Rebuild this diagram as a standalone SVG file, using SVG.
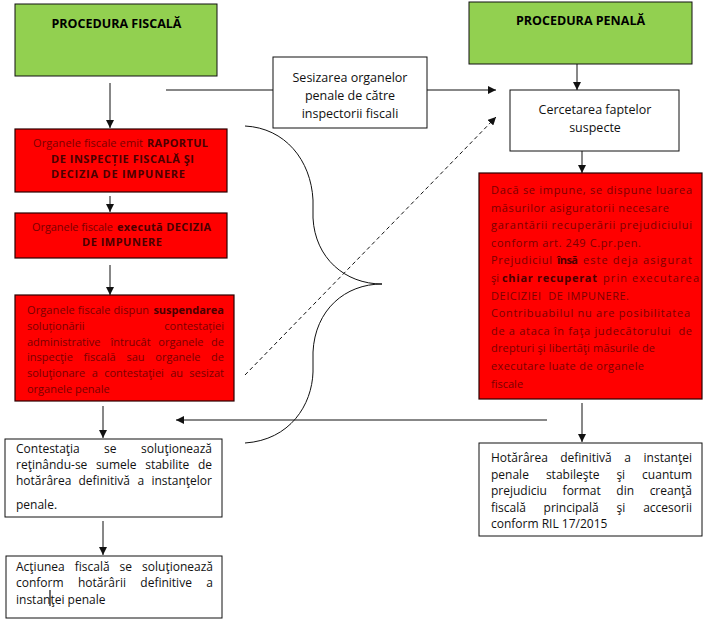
<svg xmlns="http://www.w3.org/2000/svg" width="716" height="620" viewBox="0 0 716 620">
<style>
.t{font-family:"Open Sans","Noto Sans","DejaVu Sans",sans-serif;font-size:12px;fill:#111}
.m{font-family:"Open Sans","Noto Sans","DejaVu Sans",sans-serif;font-size:12.5px;fill:#111}
.r{font-family:"Open Sans","Noto Sans","DejaVu Sans",sans-serif;font-size:11px;fill:#7a0000}
.b{font-weight:bold;fill:#4a0000}
.h{font-family:"Open Sans","Noto Sans","DejaVu Sans",sans-serif;font-size:12.5px;font-weight:bold;fill:#000}
.c{text-anchor:middle}
.e{text-anchor:end}
.green{fill:#92d050;stroke:#111;stroke-width:1}
.red{fill:#ff0000;stroke:#2a0000;stroke-width:1.2}
.white{fill:#fff;stroke:#111;stroke-width:1}
.ln{stroke:#111;stroke-width:1;fill:none}
</style>
<defs>
<marker id="ah" viewBox="0 0 10 10" refX="10" refY="5" markerWidth="8" markerHeight="8" markerUnits="userSpaceOnUse" orient="auto">
<path d="M0,0 L10,5 L0,10 z" fill="#111"/>
</marker>
</defs>
<rect width="716" height="620" fill="#fff"/>

<g id="connectors">
<line class="ln" x1="110" y1="83" x2="110" y2="128" marker-end="url(#ah)"/>
<line class="ln" x1="110" y1="196" x2="110" y2="212" marker-end="url(#ah)"/>
<line class="ln" x1="110" y1="265" x2="110" y2="295" marker-end="url(#ah)"/>
<line class="ln" x1="103" y1="406" x2="103" y2="438" marker-end="url(#ah)"/>
<line class="ln" x1="103" y1="521" x2="103" y2="555" marker-end="url(#ah)"/>
<line class="ln" x1="166" y1="90" x2="496" y2="90" marker-end="url(#ah)"/>
<line class="ln" x1="245" y1="375" x2="496" y2="117" stroke-dasharray="4,3" marker-end="url(#ah)"/>
<line class="ln" x1="577" y1="64" x2="577" y2="90" marker-end="url(#ah)"/>
<line class="ln" x1="582" y1="151" x2="582" y2="173" marker-end="url(#ah)"/>
<line class="ln" x1="582" y1="403" x2="582" y2="442" marker-end="url(#ah)"/>
<line class="ln" x1="547" y1="420" x2="176" y2="420" marker-end="url(#ah)"/>
<path id="brace" class="ln" d="M245,126 C285,128 311,160 313,200 L313,218 C315,258 345,284 382,284 C345,284 315,310 313,352 L313,372 C312,405 290,440 245,443"/>
</g>

<g id="procedura-fiscala">
<rect class="green" x="15" y="4" width="202" height="72"/>
<text class="h c" x="116.5" y="28">PROCEDURA FISCALĂ</text>
</g>

<g id="procedura-penala">
<rect class="green" x="469" y="2" width="223" height="62"/>
<text class="h c" x="580.5" y="25">PROCEDURA PENALĂ</text>
</g>

<g id="sesizarea">
<rect class="white" x="273" y="57" width="154" height="71"/>
<text class="m c" x="350" y="82">Sesizarea organelor</text>
<text class="m c" x="350" y="100">penale de către</text>
<text class="m c" x="350" y="118">inspectorii fiscali</text>
</g>

<g id="cercetarea">
<rect class="white" x="510" y="90" width="169" height="61"/>
<text class="m c" x="595" y="114">Cercetarea faptelor</text>
<text class="m c" x="595" y="132">suspecte</text>
</g>

<g id="raportul">
<rect class="red" x="15" y="129" width="212" height="63"/>
<text class="r" x="33" y="147" textLength="110">Organele fiscale emit</text>
<text class="r b" x="147" y="147" textLength="61">RAPORTUL</text>
<text class="r b" x="51" y="163" textLength="143">DE INSPECȚIE FISCALĂ ŞI</text>
<text class="r b" x="51" y="178" textLength="134">DECIZIA DE IMPUNERE</text>
</g>

<g id="executa">
<rect class="red" x="15" y="213" width="212" height="45"/>
<text class="r" x="32" y="231" textLength="81">Organele fiscale</text>
<text class="r b" x="117" y="231" textLength="94">execută DECIZIA</text>
<text class="r b" x="82" y="246" textLength="80">DE IMPUNERE</text>
</g>

<g id="suspendarea">
<rect class="red" x="15" y="295" width="219" height="106"/>
<text class="r" x="27" y="314" textLength="122">Organele fiscale dispun</text>
<text class="r b e" x="224" y="314">suspendarea</text>
<text class="r" x="27" y="330">soluționării</text>
<text class="r e" x="224" y="330">contestației</text>
<text class="r" x="27" y="346">administrative</text>
<text class="r" x="110.6" y="346">întrucât</text>
<text class="r" x="158.3" y="346">organele</text>
<text class="r e" x="224" y="346">de</text>
<text class="r" x="27" y="361">inspecţie</text>
<text class="r" x="83.6" y="361">fiscală</text>
<text class="r" x="126.4" y="361">sau</text>
<text class="r" x="155.3" y="361">organele</text>
<text class="r e" x="224" y="361">de</text>
<text class="r" x="27" y="377">soluţionare</text>
<text class="r" x="91.7" y="377">a</text>
<text class="r" x="104.2" y="377">contestaţiei</text>
<text class="r" x="170.2" y="377">au</text>
<text class="r e" x="224" y="377">sesizat</text>
<text class="r" x="27" y="393">organele penale</text>
</g>

<g id="contestatia">
<rect class="white" x="5" y="439" width="217" height="78"/>
<text class="t" x="16" y="453">Contestaţia</text>
<text class="t" x="104" y="453">se</text>
<text class="t e" x="212" y="453">soluţionează</text>
<text class="t" x="16" y="469">reţinându-se</text>
<text class="t" x="95.9" y="469">sumele</text>
<text class="t" x="145.2" y="469">stabilite</text>
<text class="t e" x="212" y="469">de</text>
<text class="t" x="16" y="485">hotărârea</text>
<text class="t" x="78.5" y="485">definitivă</text>
<text class="t" x="137.4" y="485">a</text>
<text class="t e" x="212" y="485">instanţelor</text>
<text class="t" x="16" y="509">penale.</text>
</g>

<g id="actiunea">
<rect class="white" x="6" y="556" width="216" height="62"/>
<text class="t" x="16" y="571">Acţiunea</text>
<text class="t" x="74.7" y="571">fiscală</text>
<text class="t" x="119.6" y="571">se</text>
<text class="t e" x="213" y="571">soluţionează</text>
<text class="t" x="16" y="587">conform</text>
<text class="t" x="77.9" y="587">hotărârii</text>
<text class="t" x="140.3" y="587">definitive</text>
<text class="t e" x="213" y="587">a</text>
<text class="t" x="16" y="604">instanţei penale</text>
<line x1="50" y1="590" x2="50" y2="606" stroke="#111" stroke-width="1.2"/>
</g>

<g id="masuri-asiguratorii">
<rect class="red" x="479" y="173" width="223" height="226"/>
<text class="r" x="491" y="194" textLength="201">Dacă se impune, se dispune luarea</text>
<text class="r" x="491" y="211.6" textLength="178">măsurilor asiguratorii necesare</text>
<text class="r" x="491" y="229.2" textLength="201">garantării recuperării prejudiciului</text>
<text class="r" x="491" y="246.8" textLength="150">conform art. 249 C.pr.pen.</text>
<text class="r" x="491" y="264.4" textLength="61">Prejudiciul</text>
<text class="r b" x="557" y="264.4" textLength="21">însă</text>
<text class="r" x="583" y="264.4" textLength="109">este deja asigurat</text>
<text class="r" x="491" y="282">şi</text>
<text class="r b" x="502" y="282" textLength="95">chiar recuperat</text>
<text class="r" x="603" y="282" textLength="96">prin executarea</text>
<text class="r" x="491" y="299.6" textLength="138">DEICIZIEI&#160; DE IMPUNERE.</text>
<text class="r" x="491" y="317.2" textLength="199">Contribuabilul nu are posibilitatea</text>
<text class="r" x="491" y="334.8" textLength="201">de a ataca în faţa judecătorului&#160; de</text>
<text class="r" x="491" y="352.4" textLength="164">drepturi şi libertăţi măsurile de</text>
<text class="r" x="491" y="370" textLength="153">executare luate de organele</text>
<text class="r" x="491" y="387.6">fiscale</text>
</g>

<g id="hotararea">
<rect class="white" x="479" y="443" width="223" height="93"/>
<text class="t" x="491" y="462">Hotărârea</text>
<text class="t" x="560.2" y="462">definitivă</text>
<text class="t" x="624.3" y="462">a</text>
<text class="t e" x="692" y="462">instanţei</text>
<text class="t" x="491" y="478.5">penale</text>
<text class="t" x="545.9" y="478.5">stabileşte</text>
<text class="t" x="616.4" y="478.5">şi</text>
<text class="t e" x="692" y="478.5">cuantum</text>
<text class="t" x="491" y="495">prejudiciu</text>
<text class="t" x="562.6" y="495">format</text>
<text class="t" x="616.3" y="495">din</text>
<text class="t e" x="692" y="495">creanţă</text>
<text class="t" x="491" y="511.5">fiscală</text>
<text class="t" x="543.6" y="511.5">principală</text>
<text class="t" x="616.5" y="511.5">şi</text>
<text class="t e" x="692" y="511.5">accesorii</text>
<text class="t" x="491" y="528">conform RIL 17/2015</text>
</g>
</svg>
